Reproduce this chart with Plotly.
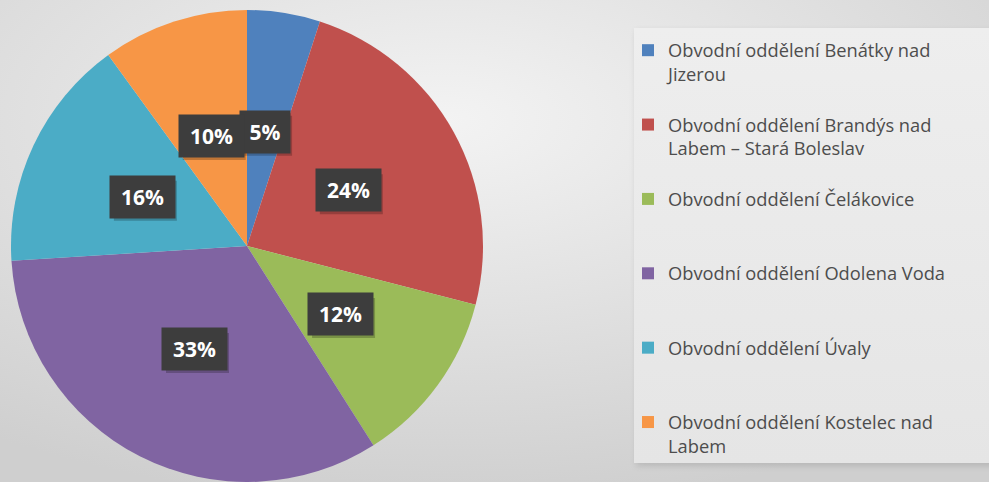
import math
import base64
import plotly.graph_objects as go

# ---------------- data ----------------
categories = [
    "Obvodní oddělení Benátky nad Jizerou",
    "Obvodní oddělení Brandýs nad Labem – Stará Boleslav",
    "Obvodní oddělení Čelákovice",
    "Obvodní oddělení Odolena Voda",
    "Obvodní oddělení Úvaly",
    "Obvodní oddělení Kostelec nad Labem",
]
legend_labels = [
    "Obvodní oddělení Benátky nad<br>Jizerou",
    "Obvodní oddělení Brandýs nad<br>Labem – Stará Boleslav",
    "Obvodní oddělení Čelákovice",
    "Obvodní oddělení Odolena Voda",
    "Obvodní oddělení Úvaly",
    "Obvodní oddělení Kostelec nad<br>Labem",
]
values = [5, 24, 12, 33, 16, 10]
colors = ["#4F81BD", "#C0504D", "#9BBB59", "#8064A2", "#4BACC6", "#F79646"]

# ---------------- layout constants ----------------
W, H = 989, 482
CX, CY, R = 247, 246, 236          # pie centre / radius in pixels
LABEL_R = 0.49 * R

# Legend entries padded to three lines so the swatch sits beside the first line
NB = "\u00a0"
display = []
for lab in legend_labels:
    txt = NB + "<br>" + lab
    if "<br>" not in lab:
        txt += "<br>" + NB
    display.append(txt)

fig = go.Figure()
fig.add_trace(go.Pie(
    labels=display,
    values=values,
    customdata=categories,
    sort=False,
    direction="clockwise",
    rotation=0,
    marker=dict(colors=colors, line=dict(width=0)),
    textinfo="none",
    hovertemplate="%{customdata}: %{percent}<extra></extra>",
    domain=dict(x=[(CX - R) / W, (CX + R) / W],
                y=[(H - CY - R) / H, (H - CY + R) / H]),
))

# percentage labels in dark boxes, placed from slice mid-angles
total = sum(values)
cum = 0
annotations = []
shapes = []
for v in values:
    theta = 2 * math.pi * (cum + v / 2) / total
    cum += v
    px = CX + LABEL_R * math.sin(theta)
    py = CY - LABEL_R * math.cos(theta)
    txt = f"{round(100 * v / total)}%"
    bw = 63 if len(txt) > 2 else 48
    bh = 40
    # soft drop shadow behind the label box
    shapes.append(dict(type="rect", xref="paper", yref="paper", layer="above",
                       x0=(px - bw / 2 + 3) / W, x1=(px + bw / 2 + 3) / W,
                       y0=1 - (py + bh / 2 + 4) / H, y1=1 - (py - bh / 2 + 4) / H,
                       fillcolor="rgba(0,0,0,0.22)", line=dict(width=0)))
    annotations.append(dict(xref="paper", yref="paper", x=px / W, y=1 - py / H,
                            showarrow=False, xanchor="center", yanchor="middle",
                            width=bw, height=bh, text=txt, bgcolor="#3d3d3d",
                            font=dict(family="Open Sans", size=21, color="white",
                                      weight="bold")))

# background gradient + legend panel as an svg image
svg = (
    f'<svg xmlns="http://www.w3.org/2000/svg" width="{W}" height="{H}">'
    '<defs>'
    '<radialGradient id="g" cx="0.45" cy="0.25" r="0.8">'
    '<stop offset="0" stop-color="#f3f3f3"/><stop offset="1" stop-color="#cfcfcf"/>'
    '</radialGradient>'
    '<linearGradient id="l" x1="0" y1="0" x2="0" y2="1">'
    '<stop offset="0" stop-color="#eeeeee"/><stop offset="1" stop-color="#e5e5e5"/>'
    '</linearGradient>'
    '<filter id="s" x="-10%" y="-10%" width="120%" height="120%">'
    '<feGaussianBlur stdDeviation="3"/></filter>'
    '</defs>'
    f'<rect width="{W}" height="{H}" fill="url(#g)"/>'
    '<rect x="636" y="31" width="360" height="435" fill="#9a9a9a" opacity="0.45" filter="url(#s)"/>'
    '<rect x="634" y="28" width="360" height="435" fill="url(#l)"/>'
    '</svg>'
)
src = "data:image/svg+xml;base64," + base64.b64encode(svg.encode("utf-8")).decode("ascii")

fig.update_layout(
    width=W, height=H,
    margin=dict(l=0, r=0, t=0, b=0),
    paper_bgcolor="#e4e4e4",
    plot_bgcolor="rgba(0,0,0,0)",
    font=dict(family="Open Sans", color="#4d4d4d"),
    showlegend=True,
    legend=dict(
        x=628 / W, xanchor="left",
        y=1 - 8 / H, yanchor="top",
        bgcolor="rgba(0,0,0,0)",
        borderwidth=0,
        font=dict(family="Open Sans", size=18.3, color="#4d4d4d"),
        traceorder="normal",
    ),
    images=[dict(source=src, xref="paper", yref="paper", x=0, y=1,
                 sizex=1, sizey=1, sizing="stretch", xanchor="left",
                 yanchor="top", layer="below")],
    shapes=shapes,
    annotations=annotations,
)

fig.write_html("out.html",
               config={"displayModeBar": False},
               post_script="document.body.style.margin='0';document.body.style.overflow='hidden';")
